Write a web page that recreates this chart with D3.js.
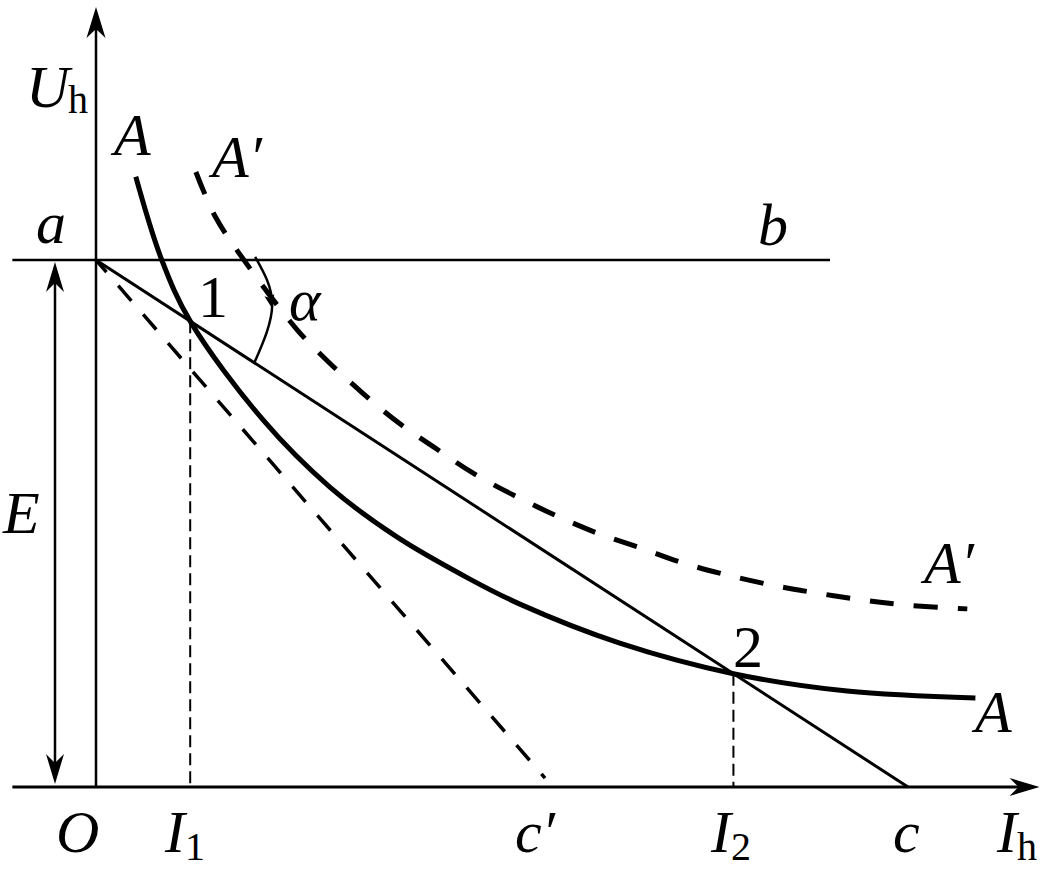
<!DOCTYPE html>
<html>
<head>
<meta charset="utf-8">
<script src="https://cdn.jsdelivr.net/npm/d3@7/dist/d3.min.js"></script>
<style>
  html, body { margin: 0; padding: 0; background: #fff; }
  svg { display: block; }
</style>
</head>
<body>
<svg id="chart" width="1056" height="869"></svg>
<script>
// ---------- data (in chart units: E = 10, c = 10) ----------
const E = 10;          // source voltage (a on U axis)
const cIntercept = 10; // load line meets I axis at c
const cPrimeEnd = [5.53, 0.17]; // steeper dashed line ends just above axis
const I1 = 1.16;
const I2 = 7.85;

// characteristic A (solid)
const curveA = [
  [0.49, 11.58], [0.81, 10.0], [1.16, 8.84], [2.06, 6.96], [2.88, 5.69],
  [3.71, 4.74], [4.61, 3.94], [5.22, 3.47], [6.45, 2.73], [7.85, 2.15],
  [9.25, 1.82], [10.83, 1.69]
];
// characteristic A' (dashed)
const curveAp = [
  [1.23, 11.67], [1.47, 10.82], [1.84, 9.96], [2.48, 8.67], [2.86, 8.07],
  [3.28, 7.48], [3.71, 6.93], [4.18, 6.43], [4.64, 5.96], [5.14, 5.54],
  [5.65, 5.16], [6.17, 4.82], [6.70, 4.54], [7.23, 4.25], [7.78, 4.02],
  [8.33, 3.83], [8.88, 3.68], [9.43, 3.55], [10.0, 3.45], [10.73, 3.38]
];
// angle marker alpha
const alphaArc = [[1.96, 10.06], [2.17, 9.15], [1.95, 8.05]];

// axis extents
const xAxisRange = [-1.03, 11.62];
const yAxisTop = 14.8;
const abRange = [-1.03, 9.04];

// labels
const axisLabels = ["O", "I", "c′", "I", "c", "I"];
const axisSubs = ["", "1", "", "2", "", "h"];

// ---------- scales ----------
const svg = d3.select("#chart");
const xs = d3.scaleLinear().domain([0, 10]).range([96, 908]);
const ys = d3.scaleLinear().domain([0, 10]).range([787, 260]);

const line = d3.line().x(d => xs(d[0])).y(d => ys(d[1]));
const smooth = d3.line().x(d => xs(d[0])).y(d => ys(d[1])).curve(d3.curveCatmullRom.alpha(0.5));
const natural = d3.line().x(d => xs(d[0])).y(d => ys(d[1])).curve(d3.curveNatural);

function arrowHead(tipX, tipY, angle, len, half, notch) {
  const ca = Math.cos(angle), sa = Math.sin(angle);
  const bx = tipX - ca * len, by = tipY - sa * len;
  const nx = tipX - ca * (len - notch), ny = tipY - sa * (len - notch);
  const p1 = [bx - sa * half, by + ca * half];
  const p2 = [bx + sa * half, by - ca * half];
  return `M${tipX},${tipY}L${p1[0]},${p1[1]}L${nx},${ny}L${p2[0]},${p2[1]}Z`;
}

// ---------- axes ----------
svg.append("path")
  .attr("d", line([[xAxisRange[0], 0], [xAxisRange[1] - 0.2, 0]]))
  .attr("stroke", "#000").attr("stroke-width", 3).attr("fill", "none");
svg.append("path")
  .attr("d", arrowHead(xs(xAxisRange[1]), ys(0), 0, 30, 9, 9))
  .attr("fill", "#000");

svg.append("path")
  .attr("d", line([[0, 0], [0, yAxisTop - 0.3]]))
  .attr("stroke", "#000").attr("stroke-width", 2.5).attr("fill", "none");
svg.append("path")
  .attr("d", arrowHead(xs(0), ys(yAxisTop), -Math.PI / 2, 31, 9.5, 9))
  .attr("fill", "#000");

// horizontal line a-b
svg.append("path")
  .attr("d", line([[abRange[0], E], [abRange[1], E]]))
  .attr("stroke", "#000").attr("stroke-width", 2.5).attr("fill", "none");

// E double arrow
const eX = xs(-0.505);
svg.append("line")
  .attr("x1", eX).attr("x2", eX).attr("y1", ys(E) + 12).attr("y2", ys(0) - 12)
  .attr("stroke", "#000").attr("stroke-width", 2.5);
svg.append("path").attr("d", arrowHead(eX, ys(E) + 2, -Math.PI / 2, 30, 9, 9)).attr("fill", "#000");
svg.append("path").attr("d", arrowHead(eX, ys(0) - 3, Math.PI / 2, 30, 9, 9)).attr("fill", "#000");

// ---------- lines ----------
svg.append("path")
  .attr("d", line([[0, E], [cIntercept, 0]]))
  .attr("stroke", "#000").attr("stroke-width", 3).attr("fill", "none");

svg.append("path")
  .attr("d", line([[0, E], cPrimeEnd]))
  .attr("stroke", "#000").attr("stroke-width", 3.5).attr("fill", "none")
  .attr("stroke-dasharray", "20,18").attr("stroke-dashoffset", 4);

[[I1, 10 - I1], [I2, 10 - I2]].forEach(p => {
  svg.append("path")
    .attr("d", line([[p[0], p[1]], [p[0], 0]]))
    .attr("stroke", "#000").attr("stroke-width", 2).attr("fill", "none")
    .attr("stroke-dasharray", "12,6");
});

svg.append("path")
  .attr("d", smooth(curveA))
  .attr("stroke", "#000").attr("stroke-width", 5).attr("fill", "none");

svg.append("path")
  .attr("d", smooth(curveAp))
  .attr("stroke", "#000").attr("stroke-width", 5).attr("fill", "none")
  .attr("stroke-dasharray", "24,20");

svg.append("path")
  .attr("d", natural(alphaArc))
  .attr("stroke", "#000").attr("stroke-width", 2.5).attr("fill", "none");
svg.append("path")
  .attr("d", arrowHead(xs(2.16) + 1, ys(9.15) + 4, 1.35, 14, 5, 3))
  .attr("fill", "#000");

// ---------- labels ----------
const FONT = "'Liberation Serif', Tinos, 'Times New Roman', Times, 'Nimbus Roman', 'DejaVu Serif', serif";
function label(txt, x, y, size, italic) {
  return svg.append("text").attr("x", x).attr("y", y)
    .attr("font-family", FONT)
    .attr("font-size", size).attr("font-style", italic ? "italic" : "normal")
    .attr("fill", "#000")
    .text(txt);
}
const big = 60, sub = 40;

label("U", 26, 107, big, true);
label("h", 68, 113, sub, false);

label("A", 114, 155, big, true);
label("A′", 212, 177, big, true);
label("a", 36, 243, big, true);
label("b", 758, 245, big, true);
label("1", 198, 317, big, false);
label("α", 289, 320, big, true);
label("E", 3, 533, big, true);
label("A′", 924, 583, big, true);
label("2", 733, 667, big, false);
label("A", 975, 732, big, true);

const axisLabelX = [56, 165, 515, 711, 893, 997];
axisLabels.forEach((t, i) => {
  const tx = label(t, axisLabelX[i], 852, big, true);
  if (axisSubs[i]) {
    const w = tx.node().getComputedTextLength();
    label(axisSubs[i], axisLabelX[i] + w, 860, sub, false);
  }
});
</script>
</body>
</html>
